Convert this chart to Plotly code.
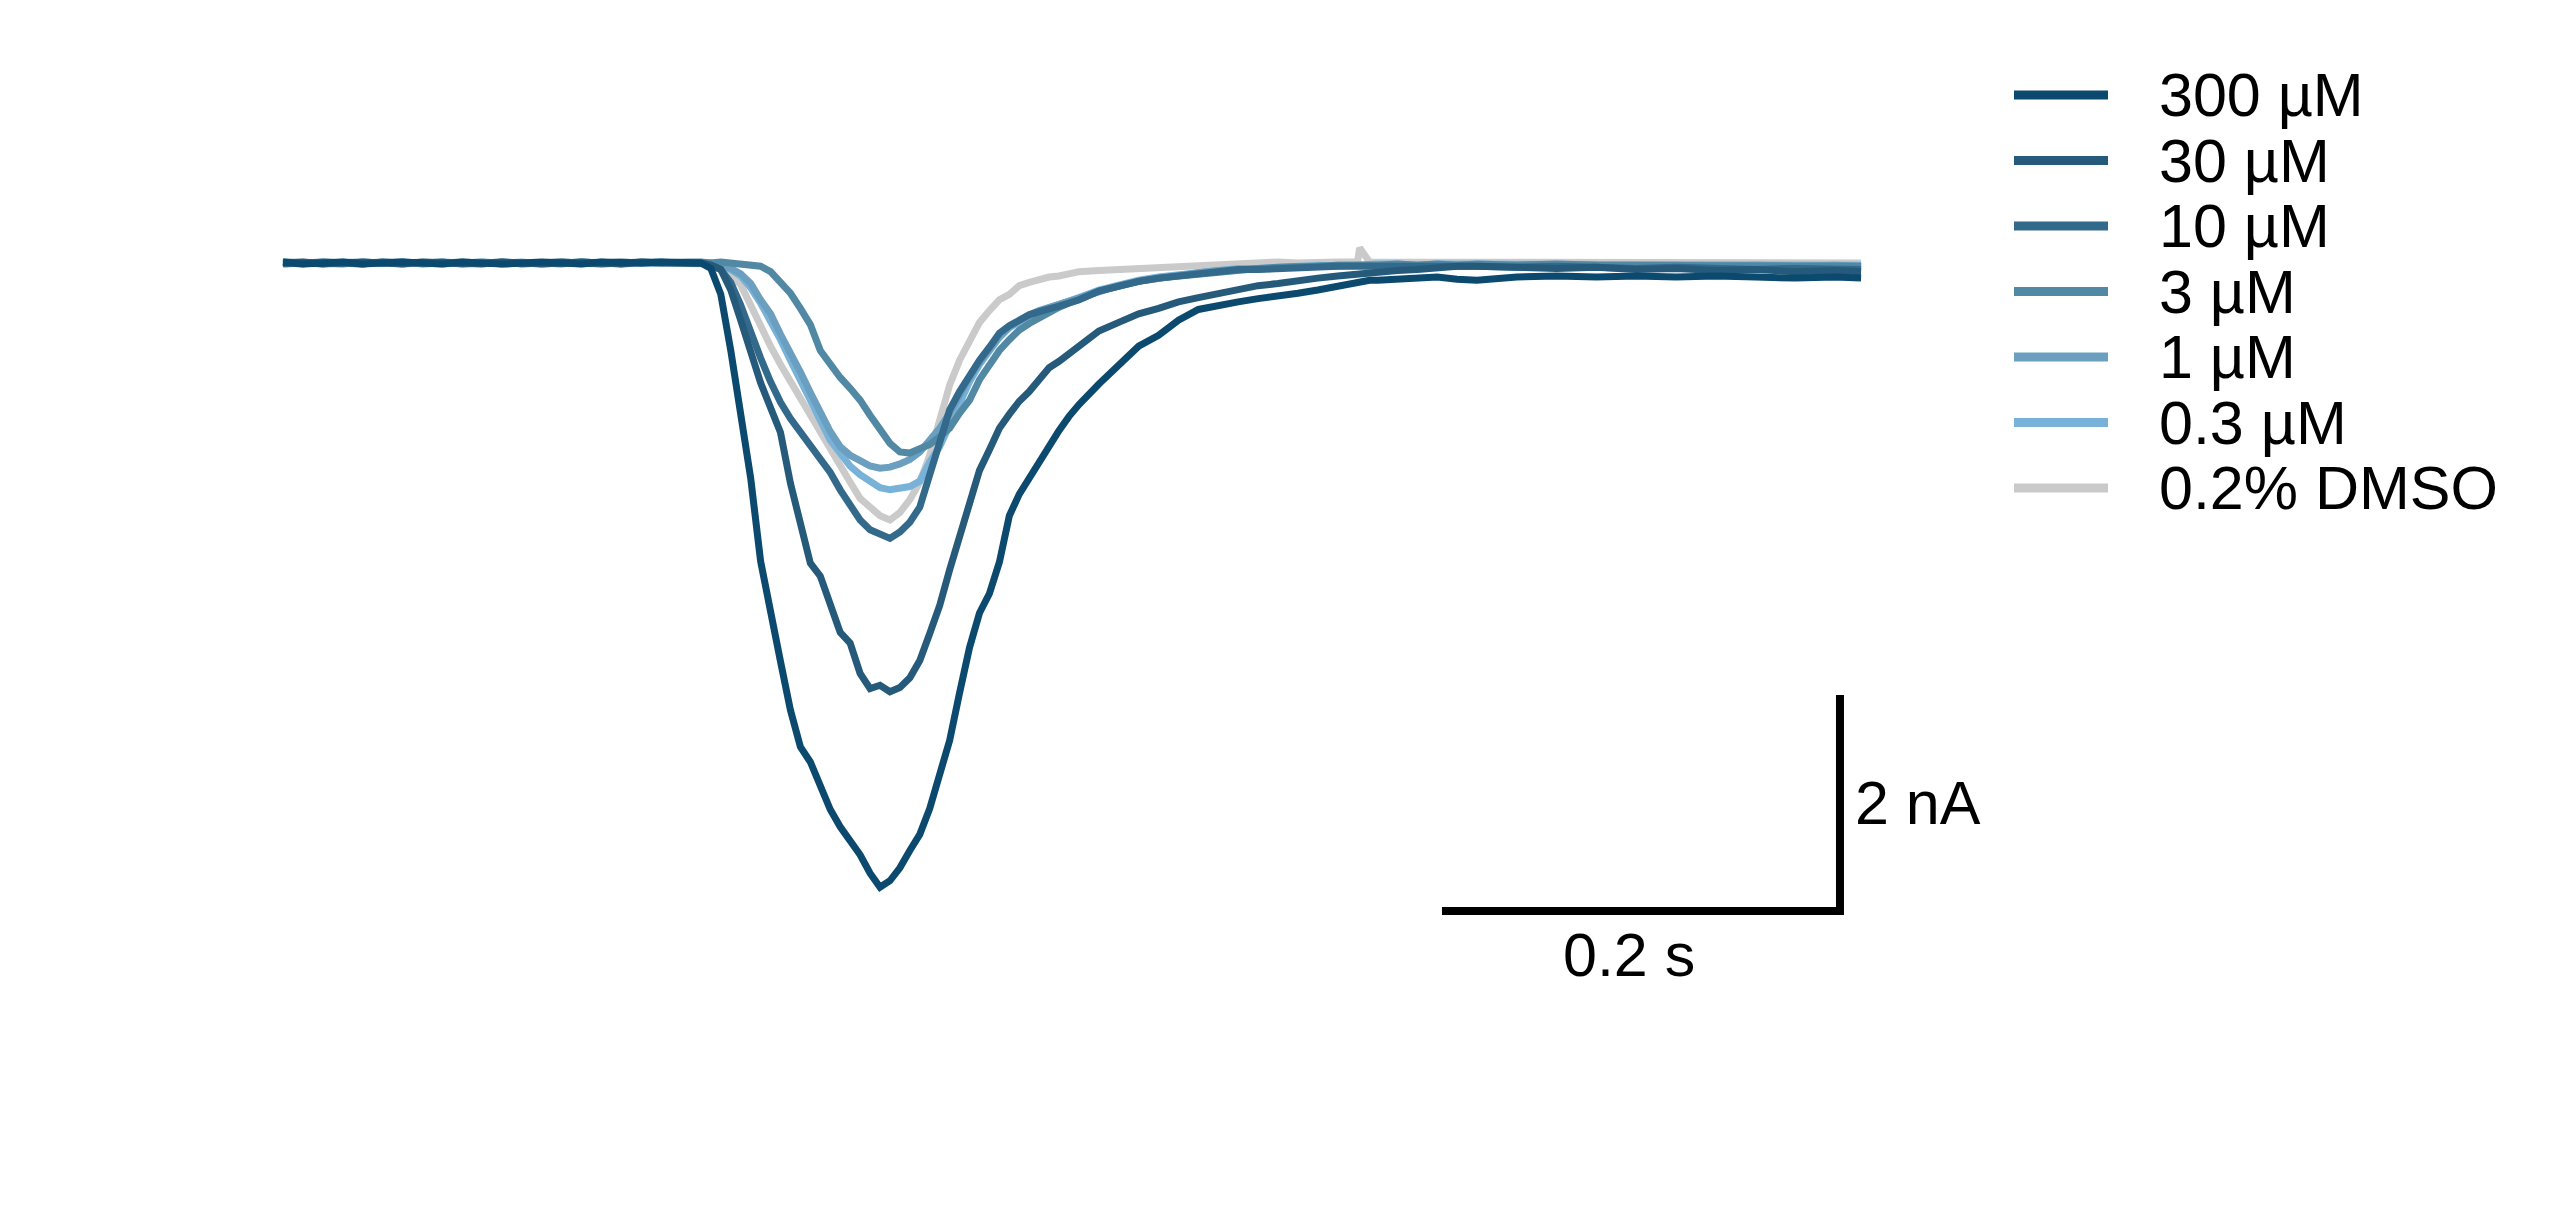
import plotly.graph_objects as go

# time base (s) shared by all recordings
time_s = [
    0.00, 0.01, 0.02, 0.03, 0.04, 0.05, 0.06, 0.07, 0.08, 0.09, 0.10,
    0.11, 0.12, 0.13, 0.14, 0.15, 0.16, 0.17, 0.18, 0.19, 0.20,
    0.205, 0.21, 0.215, 0.22, 0.225, 0.23, 0.235, 0.24, 0.245, 0.25,
    0.255, 0.26, 0.265, 0.27, 0.275, 0.28, 0.285, 0.29, 0.295, 0.30,
    0.305, 0.31, 0.315, 0.32, 0.325, 0.33, 0.335, 0.34, 0.345, 0.35,
    0.355, 0.36, 0.365, 0.37, 0.375, 0.38, 0.385, 0.39, 0.395, 0.40,
    0.41, 0.42, 0.43, 0.44, 0.45, 0.46, 0.47, 0.48, 0.49, 0.50,
    0.51, 0.52, 0.53, 0.54, 0.541, 0.546, 0.55, 0.56, 0.57, 0.58, 0.59, 0.60,
    0.62, 0.64, 0.66, 0.68, 0.70, 0.72, 0.74, 0.76, 0.78, 0.793,
]

# current (nA)
i_300uM = [
    0.01, -0.01, 0.0, 0.01, -0.01, 0.0, 0.01, 0.0, -0.01, 0.01, 0.0,
    -0.01, 0.0, 0.01, 0.0, -0.01, 0.01, 0.0, 0.0, 0.01, 0.0,
    0.01, 0.0, -0.05, -0.29, -0.81, -1.42, -1.99, -2.76, -3.27, -3.69,
    -4.14, -4.48, -4.62, -4.83, -5.06, -5.22, -5.34, -5.48, -5.65, -5.78,
    -5.72, -5.60, -5.44, -5.29, -5.05, -4.73, -4.42, -3.98, -3.56, -3.24,
    -3.06, -2.77, -2.34, -2.14, -1.99, -1.83, -1.69, -1.55, -1.42, -1.31,
    -1.12, -0.94, -0.77, -0.67, -0.53, -0.43, -0.39, -0.36, -0.33, -0.31,
    -0.28, -0.25, -0.21, -0.18, -0.17, -0.16, -0.16, -0.15, -0.14, -0.13, -0.15, -0.16,
    -0.13, -0.12, -0.13, -0.12, -0.13, -0.12, -0.13, -0.14, -0.13, -0.14,
]
i_30uM = [
    0.0, 0.01, -0.01, 0.0, 0.01, 0.0, -0.01, 0.01, 0.0, 0.0, -0.01,
    0.01, 0.0, -0.01, 0.0, 0.01, 0.0, -0.01, 0.01, 0.0, 0.0,
    0.0, 0.0, -0.02, -0.06, -0.25, -0.53, -0.83, -1.11, -1.34, -1.57,
    -2.04, -2.43, -2.78, -2.90, -3.15, -3.42, -3.52, -3.80, -3.94, -3.91,
    -3.97, -3.93, -3.84, -3.68, -3.43, -3.17, -2.84, -2.52, -2.24, -1.92,
    -1.73, -1.53, -1.40, -1.28, -1.19, -1.08, -0.97, -0.91, -0.84, -0.77,
    -0.63, -0.55, -0.47, -0.42, -0.36, -0.32, -0.28, -0.25, -0.21, -0.19,
    -0.16, -0.14, -0.12, -0.10, -0.10, -0.09, -0.08, -0.07, -0.06, -0.04, -0.03, -0.03,
    -0.04, -0.05, -0.04, -0.06, -0.05, -0.07, -0.06, -0.08, -0.07, -0.08,
]
i_10uM = [
    -0.01, 0.0, 0.01, 0.0, -0.01, 0.01, 0.0, 0.0, 0.01, -0.01, 0.0,
    0.01, -0.01, 0.0, 0.01, 0.0, -0.01, 0.0, 0.01, 0.0, 0.01,
    0.0, 0.0, -0.02, -0.06, -0.18, -0.39, -0.65, -0.88, -1.10, -1.29,
    -1.44, -1.57, -1.69, -1.82, -1.94, -2.10, -2.24, -2.38, -2.47, -2.51,
    -2.55, -2.49, -2.40, -2.26, -1.96, -1.64, -1.36, -1.19, -1.04, -0.90,
    -0.78, -0.65, -0.58, -0.53, -0.48, -0.45, -0.43, -0.40, -0.37, -0.34,
    -0.26, -0.21, -0.17, -0.14, -0.12, -0.10, -0.08, -0.06, -0.06, -0.05,
    -0.04, -0.04, -0.03, -0.03, -0.03, -0.03, -0.03, -0.02, -0.03, -0.02, -0.03, -0.03,
    -0.04, -0.03, -0.04, -0.05, -0.04, -0.05, -0.06, -0.05, -0.06, -0.06,
]
i_3uM = [
    0.01, 0.0, 0.0, -0.01, 0.01, 0.0, 0.01, -0.01, 0.0, 0.01, 0.0,
    0.0, 0.01, 0.0, -0.01, 0.01, 0.0, 0.01, 0.0, 0.01, 0.01,
    0.01, 0.01, 0.0, 0.01, 0.0, 0.0, -0.01, -0.03, -0.08, -0.17,
    -0.28, -0.42, -0.57, -0.81, -0.94, -1.06, -1.16, -1.27, -1.41, -1.55,
    -1.67, -1.75, -1.76, -1.72, -1.68, -1.61, -1.53, -1.39, -1.27, -1.08,
    -0.94, -0.81, -0.71, -0.62, -0.56, -0.51, -0.45, -0.41, -0.37, -0.34,
    -0.26, -0.21, -0.17, -0.14, -0.12, -0.10, -0.08, -0.06, -0.05, -0.04,
    -0.04, -0.03, -0.02, -0.03, -0.02, -0.02, -0.02, -0.01, -0.02, -0.01, -0.02, -0.01,
    -0.02, -0.01, -0.02, -0.02, -0.03, -0.02, -0.03, -0.02, -0.03, -0.03,
]
i_1uM = [
    0.0, -0.01, 0.01, 0.0, 0.0, 0.01, -0.01, 0.0, 0.01, 0.0, 0.01,
    -0.01, 0.0, 0.0, 0.01, 0.0, 0.01, -0.01, 0.0, 0.01, 0.0,
    0.0, 0.01, 0.0, -0.02, -0.05, -0.10, -0.19, -0.34, -0.47, -0.66,
    -0.82, -1.01, -1.20, -1.39, -1.56, -1.70, -1.78, -1.83, -1.88, -1.90,
    -1.89, -1.86, -1.82, -1.75, -1.64, -1.53, -1.39, -1.22, -1.06, -0.92,
    -0.79, -0.68, -0.59, -0.53, -0.48, -0.44, -0.41, -0.38, -0.35, -0.33,
    -0.26, -0.21, -0.17, -0.14, -0.11, -0.09, -0.07, -0.06, -0.05, -0.04,
    -0.03, -0.03, -0.02, -0.02, -0.02, -0.02, -0.01, -0.02, -0.01, -0.02, -0.01, -0.02,
    -0.01, -0.02, -0.02, -0.01, -0.02, -0.03, -0.02, -0.03, -0.02, -0.03,
]
i_0p3uM = [
    0.01, 0.0, -0.01, 0.01, 0.0, 0.0, 0.01, 0.0, -0.01, 0.0, 0.01,
    0.0, 0.01, -0.01, 0.0, 0.01, 0.0, 0.0, 0.01, 0.0, 0.01,
    0.01, 0.0, 0.0, -0.02, -0.06, -0.12, -0.23, -0.37, -0.53, -0.71,
    -0.90, -1.09, -1.29, -1.47, -1.64, -1.76, -1.88, -1.96, -2.03, -2.08,
    -2.10, -2.09, -2.07, -2.02, -1.84, -1.70, -1.50, -1.29, -1.10, -0.94,
    -0.81, -0.69, -0.60, -0.54, -0.49, -0.45, -0.42, -0.38, -0.35, -0.32,
    -0.25, -0.20, -0.16, -0.13, -0.11, -0.09, -0.07, -0.05, -0.05, -0.04,
    -0.03, -0.02, -0.03, -0.02, -0.01, -0.02, -0.01, -0.01, -0.02, -0.01, -0.01, -0.02,
    -0.01, -0.01, -0.02, -0.01, -0.02, -0.02, -0.01, -0.02, -0.02, -0.02,
]
i_dmso = [
    0.0, 0.01, 0.0, 0.0, -0.01, 0.01, 0.0, 0.01, 0.0, -0.01, 0.0,
    0.01, 0.0, 0.0, 0.01, -0.01, 0.0, 0.01, 0.0, 0.0, 0.0,
    0.0, 0.0, -0.01, -0.05, -0.12, -0.20, -0.39, -0.60, -0.77, -0.94,
    -1.10, -1.25, -1.41, -1.56, -1.73, -1.89, -2.03, -2.18, -2.27, -2.34,
    -2.38, -2.31, -2.19, -2.03, -1.78, -1.45, -1.13, -0.90, -0.74, -0.55,
    -0.44, -0.34, -0.29, -0.21, -0.18, -0.15, -0.13, -0.12, -0.10, -0.08,
    -0.07, -0.06, -0.05, -0.04, -0.03, -0.02, -0.01, 0.0, 0.0, 0.01,
    0.0, 0.01, 0.01, 0.01, 0.14, 0.01, 0.01, 0.0, 0.01, 0.01, 0.0, 0.01,
    0.01, 0.0, 0.01, 0.0, 0.01, 0.0, 0.0, 0.01, 0.0, 0.0,
]

labels = ["300 µM", "30 µM", "10 µM", "3 µM", "1 µM", "0.3 µM", "0.2% DMSO"]
currents = [i_300uM, i_30uM, i_10uM, i_3uM, i_1uM, i_0p3uM, i_dmso]
colors = ["#0b4a6e", "#255a7b", "#33698a", "#5189a5", "#6a9fc0", "#79b2d9", "#cacaca"]

FONT = dict(family="Liberation Sans, Arial, sans-serif", size=61, color="black")

fig = go.Figure()

# draw the control first so the highest concentration ends up on top
for name, cur, col in reversed(list(zip(labels, currents, colors))):
    fig.add_trace(go.Scatter(
        x=time_s, y=cur, mode="lines", name=name,
        line=dict(color=col, width=7), showlegend=False, hoverinfo="skip",
    ))

# hand-made legend so the row spacing matches
for k, (name, col) in enumerate(zip(labels, colors)):
    ypos = 1 - (95 + 65.5 * k) / 1218
    fig.add_shape(type="line", xref="paper", yref="paper",
                  x0=2014 / 2560, x1=2108 / 2560, y0=ypos, y1=ypos,
                  line=dict(color=col, width=9))
    fig.add_annotation(text=name, xref="paper", yref="paper",
                       x=2157 / 2560, y=ypos, xanchor="left", yanchor="middle",
                       showarrow=False, font=FONT)

# scale bar: 0.2 s by 2 nA
sb_t, sb_i = 0.5824, -6.0
sb_dt, sb_di = 0.2, 2.0
fig.add_shape(type="path", xref="x", yref="y",
              path=f"M {sb_t},{sb_i} L {sb_t + sb_dt},{sb_i} L {sb_t + sb_dt},{sb_i + sb_di}",
              line=dict(color="black", width=8))
fig.add_annotation(text="0.2 s", x=sb_t + sb_dt / 2, y=sb_i, xref="x", yref="y",
                   xanchor="center", yanchor="top", yshift=-8, xshift=-12,
                   showarrow=False, font=FONT)
fig.add_annotation(text="2 nA", x=sb_t + sb_dt, y=sb_i + sb_di / 2, xref="x", yref="y",
                   xanchor="left", yanchor="middle", xshift=13,
                   showarrow=False, font=FONT)

fig.update_xaxes(visible=False, range=[-283 / 1990, (2560 - 283) / 1990])
fig.update_yaxes(visible=False, range=[(263 - 1218) / 108, 263 / 108])
fig.update_layout(
    width=2560, height=1218,
    margin=dict(l=0, r=0, t=0, b=0),
    paper_bgcolor="white", plot_bgcolor="white",
    showlegend=False,
)

fig.write_html("out.html", config={"displayModeBar": False},
               post_script="document.body.style.margin = '0';")
